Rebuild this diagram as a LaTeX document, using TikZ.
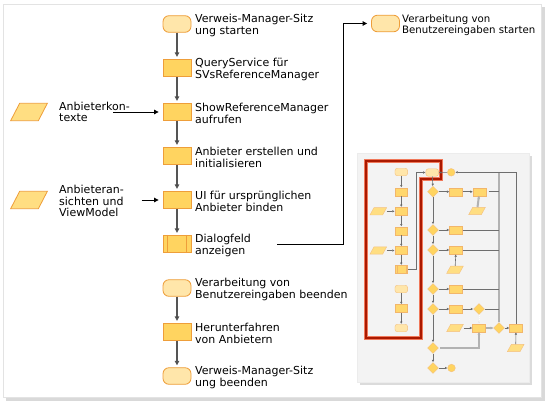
\documentclass[tikz,border=0pt]{standalone}
\usepackage{fontspec}
\setmainfont{DejaVu Sans}
\usetikzlibrary{arrows.meta,shapes.geometric,calc}
\definecolor{procfill}{RGB}{255,212,96}
\definecolor{procdraw}{RGB}{238,158,58}
\definecolor{termfill}{RGB}{255,230,170}
\definecolor{parafill}{RGB}{255,222,130}
\definecolor{cline}{RGB}{85,85,85}
\definecolor{tline}{RGB}{110,110,110}
\definecolor{thickc}{RGB}{178,178,178}
\definecolor{redbox}{RGB}{170,25,0}
\definecolor{redglow}{RGB}{240,120,90}
\definecolor{panelc}{RGB}{243,243,243}
\newcommand{\mypara}[7]{%
  \node[inner sep=0, minimum width=#5, minimum height=#6] (#2) at (#3,#4) {};
  \draw[#1] (#3-#5/2,#4+#6/2) -- (#3+#5/2-#7,#4+#6/2) -- (#3+#5/2,#4-#6/2) -- (#3-#5/2+#7,#4-#6/2) -- cycle;
}
\tikzset{
  proc/.style={draw=procdraw, fill=procfill, line width=0.8pt, minimum width=28pt, minimum height=17.5pt, inner sep=0},
  term/.style={draw=procdraw, fill=termfill, line width=0.8pt, rounded corners=6pt, minimum width=28pt, minimum height=16.6pt, inner sep=0},
  parast/.style={draw=procdraw, fill=parafill, line width=0.8pt},
  lbl/.style={inner sep=0, anchor=west, align=left, font=\fontsize{11}{11.4}\selectfont},
  carrow/.style={draw=cline, line width=1.2pt, -{Triangle[length=4.5pt,width=4.5pt,fill=black]}, shorten >=2pt},
  barrow/.style={draw=black, line width=0.8pt, -{Triangle[length=4.5pt,width=4.5pt]}, shorten >=4pt},
  tproc/.style={draw=procdraw!75, fill=procfill!92, line width=0.4pt, minimum width=12.7pt, minimum height=8pt, inner sep=0},
  tterm/.style={draw=procdraw!65, fill=termfill, line width=0.4pt, rounded corners=2.5pt, minimum width=12.7pt, minimum height=7.5pt, inner sep=0},
  tparast/.style={draw=procdraw!65, fill=parafill, line width=0.4pt},
  tdia/.style={diamond, draw=procdraw!65, fill=procfill, line width=0.4pt, minimum width=11pt, minimum height=11pt, inner sep=0},
  tcirc/.style={circle, draw=procdraw!65, fill=procfill, line width=0.4pt, minimum size=7.6pt, inner sep=0},
  tl/.style={draw=tline, line width=0.6pt},
  ta/.style={tl, -{Triangle[length=2.2pt,width=2.2pt,fill=black]}, shorten >=0.3pt},
  tthick/.style={draw=thickc, line width=2pt},
  tthicka/.style={tthick, -{Triangle[length=2.6pt,width=2.6pt,fill=black!70]}},
}
\begin{document}
\begin{tikzpicture}[x=1pt,y=-1pt]
\useasboundingbox (0,0) rectangle (551,408);
% outer frame
\fill[gray!30] (6,7) rectangle (545,401);
\draw[gray!22, fill=white] (3,4) rectangle (541,397);

% main column
\node[term] (s1) at (177,24) {};
\node[proc] (s2) at (177,68) {};
\node[proc] (s3) at (177,112) {};
\node[proc] (s4) at (177,156) {};
\node[proc] (s5) at (177,200) {};
\node[proc] (s6) at (177,244) {};
\draw[procdraw, line width=0.8pt] ($(s6.north west)+(4.7,0)$) -- ($(s6.south west)+(4.7,0)$);
\draw[procdraw, line width=0.8pt] ($(s6.north east)+(-4.7,0)$) -- ($(s6.south east)+(-4.7,0)$);
\node[term] (s7) at (177,288) {};
\node[proc] (s8) at (177,332) {};
\node[term] (s9) at (177,376) {};
\node[term] (s10) at (385.5,23.5) {};

\node[lbl] (l1) at (195,25.5) {Verweis-Manager-Sitz\\ung starten};
\node[lbl] (l2) at (195,69.5) {QueryService für\\SVsReferenceManager};
\node[lbl] (l3) at (195,113.5) {ShowReferenceManager\\aufrufen};
\node[lbl] (l4) at (195,157.5) {Anbieter erstellen und\\initialisieren};
\node[lbl] (l5) at (195,201.5) {UI für ursprünglichen\\Anbieter binden};
\node[lbl] (l6) at (195,245.5) {Dialogfeld\\anzeigen};
\node[lbl] (l7) at (195,289.5) {Verarbeitung von\\Benutzereingaben beenden};
\node[lbl] (l8) at (195,333.5) {Herunterfahren\\von Anbietern};
\node[lbl] (l9) at (195,377.5) {Verweis-Manager-Sitz\\ung beenden};
\node[lbl, font=\fontsize{10.2}{11.2}\selectfont] (l10) at (402,25) {Verarbeitung von\\Benutzereingaben starten};
\node[lbl] (l11) at (59,112) {Anbieterkon-\\texte};
\node[lbl] (l12) at (59,201) {Anbieteran-\\sichten und\\ViewModel};

\mypara{parast}{p1}{29}{112}{36.7}{17.4}{9}
\mypara{parast}{p2}{29}{200}{36.7}{17.4}{9}

\draw[carrow] (s1) -- (s2);
\draw[carrow] (s2) -- (s3);
\draw[carrow] (s3) -- (s4);
\draw[carrow] (s4) -- (s5);
\draw[carrow] (s5) -- (s6);
\draw[carrow] (s7) -- (s8);
\draw[carrow] (s8) -- (s9);

\coordinate (a1) at (113,112);
\coordinate (a2) at (141.5,200);
\draw[barrow] (a1) -- (s3.west);
\draw[barrow] (a2) -- (s5.west);
\coordinate (d1) at (277,244);
\coordinate (d2) at (343,244);
\draw[barrow] (d1) -- (d2) |- (s10.west);

% thumbnail panel
\fill[gray!28] (359.5,155.5) rectangle (531.5,384.5);
\draw[gray!15, fill=panelc] (357,153) rectangle (529,382);

% red highlight
\draw[redglow, line width=3.4pt, line join=miter] (366,161) -- (441,161) -- (441,179) -- (421,179) -- (421,338) -- (366,338) -- cycle;
\draw[redbox, line width=1.6pt, line join=miter] (366,161) -- (441,161) -- (441,179) -- (421,179) -- (421,338) -- (366,338) -- cycle;

% thumbnail left column
\node[tterm] (tt1) at (401.3,172) {};
\node[tproc] (tp1) at (401.3,191.7) {};
\node[tproc] (tp2) at (401.3,211.3) {};
\node[tproc] (tp3) at (401.3,230.7) {};
\node[tproc] (tp4) at (401.3,250.5) {};
\node[tproc] (tp5) at (401.3,269.3) {};
\draw[procdraw!75, line width=0.4pt] ($(tp5.north east)+(-2,0)$) -- ($(tp5.south east)+(-2,0)$);
\draw[procdraw!75, line width=0.4pt] ($(tp5.north west)+(2,0)$) -- ($(tp5.south west)+(2,0)$);
\node[tterm] (tt2) at (401.3,289) {};
\node[tproc] (tp6) at (401.3,308.5) {};
\node[tterm] (tt3) at (401.3,328) {};
\mypara{tparast}{tpa1}{378.3}{211.3}{16.7}{7.3}{4}
\mypara{tparast}{tpa2}{378.3}{250.5}{16.7}{7.3}{4}
\draw[ta] (tt1) -- (tp1);
\draw[ta] (tp1) -- (tp2);
\draw[ta] (tp2) -- (tp3);
\draw[ta] (tp3) -- (tp4);
\draw[ta] (tp4) -- (tp5);
\draw[ta] (tt2) -- (tp6);
\draw[ta] (tp6) -- (tt3);
\draw[ta] (tpa1) -- (tp2);
\draw[ta] (tpa2) -- (tp4);

% decision column
\node[tterm] (tt4) at (432.2,172.5) {};
\node[tcirc] (tc1) at (451.2,172.3) {};
\node[tdia] (td1) at (433,191.7) {};
\node[tdia] (td2) at (433,230) {};
\node[tdia] (td3) at (433,250) {};
\node[tdia] (td4) at (433,289) {};
\node[tdia] (td5) at (433,309) {};
\node[tdia] (td6) at (433,348) {};
\node[tdia] (td7) at (433,368) {};
\node[tcirc] (tc2) at (451.5,368) {};
\coordinate (tk1) at (416.5,269.3);
\draw[ta] (tp5.east) -- (tk1) |- (tt4.west);
\draw[ta] (tc1) -- (tt4);
\draw[ta] (tt4) -- (td1);
\draw[ta] (td1) -- (td2);
\draw[ta] (td2) -- (td3);
\draw[ta] (td3) -- (td4);
\draw[ta] (td4) -- (td5);
\draw[ta] (td5) -- (td6);
\draw[ta] (td6) -- (td7);
\draw[ta] (td7) -- (tc2);

% right part
\node[tproc] (tq1) at (456,191.7) {};
\node[tproc] (tq2) at (479.5,191.7) {};
\node[tproc] (tq3) at (456,230) {};
\node[tproc] (tq4) at (456,250) {};
\node[tproc] (tq5) at (456,289) {};
\node[tproc] (tq6) at (456,309) {};
\node[tdia] (td8) at (479,309) {};
\node[tproc] (tq7) at (479,328) {};
\node[tdia] (td9) at (499,328) {};
\node[tproc] (tq8) at (516,328) {};
\mypara{tparast}{tpa3}{477}{211}{16.7}{7.3}{4}
\mypara{tparast}{tpa4}{455}{269.7}{16.7}{7.3}{4}
\mypara{tparast}{tpa5}{455}{328}{16.7}{7.3}{4}
\mypara{tparast}{tpa6}{515.7}{348}{16.7}{7.3}{4}

\coordinate (tv1) at (499,172.3);
\coordinate (tv2) at (499,191.7);
\coordinate (tv3) at (499,230);
\coordinate (tv4) at (499,250);
\coordinate (tv5) at (499,289);
\coordinate (tv6) at (499,309);
\coordinate (tk2) at (479,348);
\draw[tthick] (td9.north) -- (tv1);
\draw[ta] (tq8.north) |- (tc1.east);
\draw[ta] (td1) -- (tq1);
\draw[ta] (tq1) -- (tq2);
\draw[tl, shorten <=2.5pt] (tq2.east) -- (tv2);
\draw[tthicka] (tpa3) -- (tq2);
\draw[ta] (td2) -- (tq3);
\draw[tl] (tq3.east) -- (tv3);
\draw[ta] (td3) -- (tq4);
\draw[tl] (tq4.east) -- (tv4);
\draw[ta] (tpa4) -- (tq4);
\draw[ta] (td4) -- (tq5);
\draw[tl] (tq5.east) -- (tv5);
\draw[ta] (td5) -- (tq6);
\draw[ta] (tq6) -- (td8);
\draw[tl] (td8.east) -- (tv6);
\draw[draw=white, line width=0.8pt, dash pattern=on 1pt off 1pt, -{Triangle[length=2.2pt,width=2.2pt,fill=black]}] (td8) -- (tq7);
\draw[ta] (tpa5) -- (tq7);
\draw[tthicka] (tq7) -- (td9);
\draw[ta] (td9) -- (tq8);
\draw[ta] (tpa6) -- (tq8);
\draw[tthicka, shorten <=1.5pt] (td6.east) -- (tk2) -- (tq7.south);
\end{tikzpicture}
\end{document}
